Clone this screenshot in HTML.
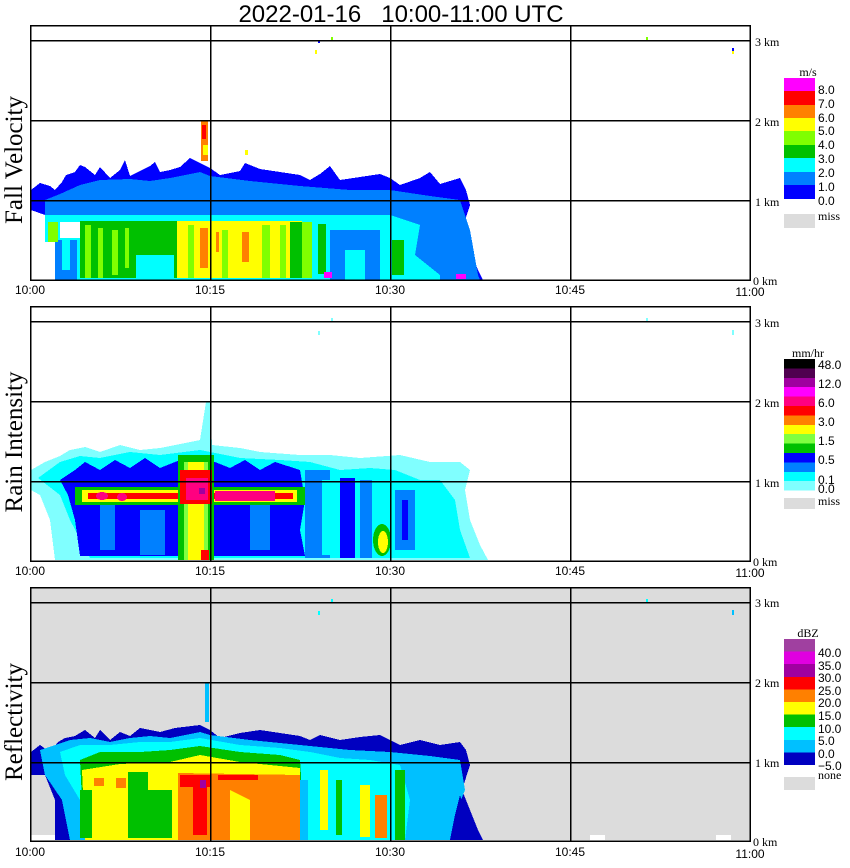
<!DOCTYPE html>
<html><head><meta charset="utf-8"><style>
body{margin:0;background:#fff;}
svg{display:block;}
.t{font-family:"Liberation Sans",sans-serif;font-size:12px;}
.s{font-family:"Liberation Serif",serif;font-size:12px;}
.yl{font-family:"Liberation Serif",serif;font-size:25px;}
</style></head><body>
<svg width="850" height="868" viewBox="0 0 850 868" xmlns="http://www.w3.org/2000/svg" shape-rendering="crispEdges">
<text x="401" y="22" text-anchor="middle" font-family="Liberation Sans,sans-serif" font-size="24" style="white-space:pre" xml:space="preserve">2022-01-16   10:00-11:00 UTC</text>

<!-- ===== Panel 1: Fall velocity ===== -->
<g>
<polygon fill="#0000ff" points="31,190 40,183 50,186 55,190 62,182 66,175 75,172 80,165 85,167 95,175 100,167 110,178 120,170 125,160 130,176 140,171 150,166 155,162 160,172 170,170 180,167 190,158 200,163 210,168 220,175 240,171 245,163 260,169 280,172 300,175 310,180 320,174 330,166 340,180 360,177 380,174 390,178 400,185 420,178 430,172 440,184 460,178 466,190 470,205 462,230 470,250 478,270 483,280 55,280 55,240 45,215 31,210"/>
<polygon fill="#0080ff" points="45,200 60,194 80,185 100,180 130,179 150,181 170,178 200,172 210,176 250,181 300,186 350,190 390,190 430,196 460,200 470,230 478,275 480,280 55,280 55,235 45,215"/>
<rect x="45" y="215" width="345" height="65" fill="#00ffff"/>
<polygon fill="#00ffff" points="390,215 420,225 415,255 440,275 440,280 390,280"/>
<rect x="330" y="230" width="50" height="50" fill="#0080ff"/>
<rect x="345" y="250" width="20" height="30" fill="#00ffff"/>
<rect x="80" y="221" width="97" height="57" fill="#00c000"/>
<rect x="85" y="225" width="6" height="53" fill="#80ff00"/>
<rect x="98" y="228" width="5" height="50" fill="#80ff00"/>
<rect x="112" y="230" width="6" height="45" fill="#80ff00"/>
<rect x="125" y="228" width="4" height="40" fill="#80ff00"/>
<rect x="136" y="255" width="38" height="23" fill="#00ffff"/>
<rect x="177" y="221" width="125" height="57" fill="#ffff00"/>
<rect x="188" y="225" width="6" height="53" fill="#80ff00"/>
<rect x="222" y="230" width="6" height="48" fill="#80ff00"/>
<rect x="262" y="225" width="8" height="53" fill="#80ff00"/>
<rect x="280" y="225" width="6" height="53" fill="#80ff00"/>
<rect x="290" y="222" width="12" height="56" fill="#00c000"/>
<rect x="200" y="228" width="8" height="40" fill="#ff8000"/>
<rect x="242" y="232" width="7" height="30" fill="#ff8000"/>
<rect x="216" y="232" width="3" height="20" fill="#ff8000"/>
<rect x="302" y="222" width="10" height="56" fill="#80ff00"/>
<rect x="318" y="224" width="8" height="50" fill="#00c000"/>
<rect x="55" y="240" width="22" height="40" fill="#0080ff"/>
<rect x="62" y="240" width="8" height="30" fill="#00ffff"/>
<rect x="48" y="222" width="10" height="20" fill="#80ff00"/>
<rect x="60" y="222" width="20" height="16" fill="#ffffff"/>
<rect x="45" y="242" width="10" height="38" fill="#ffffff"/>
<rect x="392" y="240" width="12" height="35" fill="#00c000"/>
<rect x="201" y="121" width="7" height="40" fill="#ff8000"/>
<rect x="202" y="125" width="4" height="14" fill="#ff0000"/>
<rect x="203" y="145" width="5" height="10" fill="#ffff00"/>
<rect x="324" y="272" width="8" height="6" fill="#ff00ff"/>
<rect x="456" y="274" width="10" height="5" fill="#ff00ff"/>
<rect x="245" y="150" width="3" height="5" fill="#ffff00"/>
<rect x="315" y="50" width="2" height="4" fill="#ffff00"/>
<rect x="318" y="40" width="2" height="3" fill="#0000ff"/>
<rect x="331" y="37" width="2" height="4" fill="#80ff00"/>
<rect x="646" y="37" width="2" height="4" fill="#80ff00"/>
<rect x="732" y="48" width="2" height="3" fill="#0000ff"/>
<rect x="732" y="51" width="2" height="3" fill="#ffff00"/>
<g stroke="#000" stroke-width="1.5" fill="none">
<rect x="30.5" y="25.5" width="719.5" height="254.5"/>
<line x1="30" y1="40.5" x2="750" y2="40.5"/><line x1="30" y1="120.5" x2="750" y2="120.5"/><line x1="30" y1="200.5" x2="750" y2="200.5"/>
<line x1="210.5" y1="25" x2="210.5" y2="280"/><line x1="390.5" y1="25" x2="390.5" y2="280"/><line x1="570.5" y1="25" x2="570.5" y2="280"/>
</g>
<text class="s" x="755" y="46">3 km</text><text class="s" x="755" y="126">2 km</text><text class="s" x="755" y="206">1 km</text><text class="s" x="753" y="285">0 km</text>
<text class="t" x="30" y="294" text-anchor="middle">10:00</text><text class="t" x="210" y="294" text-anchor="middle">10:15</text><text class="t" x="390" y="294" text-anchor="middle">10:30</text><text class="t" x="570" y="294" text-anchor="middle">10:45</text><text class="t" x="750" y="296" text-anchor="middle">11:00</text>
<text class="yl" transform="translate(22,160) rotate(-90)" text-anchor="middle">Fall Velocity</text>
<text class="s" x="808" y="76" text-anchor="middle" font-size="11">m/s</text>
<rect x="784" y="78" width="31" height="14" fill="#ff00ff"/><rect x="784" y="91" width="31" height="14" fill="#ff0000"/><rect x="784" y="105" width="31" height="14" fill="#ff8000"/><rect x="784" y="118" width="31" height="14" fill="#ffff00"/><rect x="784" y="131" width="31" height="14" fill="#80ff00"/><rect x="784" y="145" width="31" height="14" fill="#00c000"/><rect x="784" y="158" width="31" height="14" fill="#00ffff"/><rect x="784" y="172" width="31" height="14" fill="#0080ff"/><rect x="784" y="185" width="31" height="14" fill="#0000ff"/>
<rect x="784" y="214" width="31" height="14" fill="#dcdcdc"/>
<g class="t"><text x="818" y="94">8.0</text><text x="818" y="108">7.0</text><text x="818" y="122">6.0</text><text x="818" y="135">5.0</text><text x="818" y="149">4.0</text><text x="818" y="163">3.0</text><text x="818" y="177">2.0</text><text x="818" y="191">1.0</text><text x="818" y="205">0.0</text></g>
<text class="s" x="818" y="220">miss</text>
</g>

<!-- ===== Panel 2: Rain intensity ===== -->
<g>
<polygon fill="#80ffff" points="31,470 45,462 60,456 70,450 85,447 100,452 120,445 140,450 160,448 180,444 200,440 206,402 210,402 212,445 240,448 260,452 300,455 330,455 360,458 400,455 430,462 460,462 470,470 465,490 470,520 480,545 488,560 55,560 50,520 40,495 31,490"/>
<polygon fill="#00ffff" points="38,478 60,462 80,456 100,458 130,452 160,455 200,450 210,452 240,458 280,460 310,462 340,470 370,468 395,470 420,480 440,480 455,500 460,530 470,558 90,558 70,520 60,495"/>
<polygon fill="#0000ff" points="60,480 75,470 85,462 100,470 115,460 130,468 145,458 160,468 175,462 185,458 215,462 230,468 245,460 260,470 275,462 300,470 305,500 300,530 305,556 80,556 75,520 68,495"/>
<rect x="100" y="505" width="15" height="45" fill="#0080ff"/>
<rect x="140" y="510" width="25" height="45" fill="#0080ff"/>
<rect x="250" y="505" width="20" height="45" fill="#0080ff"/>
<rect x="305" y="470" width="25" height="88" fill="#0080ff"/>
<rect x="322" y="480" width="8" height="75" fill="#00ffff"/>
<rect x="340" y="478" width="15" height="80" fill="#0000ff"/>
<rect x="360" y="480" width="12" height="78" fill="#0080ff"/>
<rect x="395" y="490" width="20" height="60" fill="#0080ff"/>
<rect x="402" y="500" width="6" height="40" fill="#0000ff"/>
<ellipse cx="382" cy="540" rx="9" ry="16" fill="#00c000"/>
<ellipse cx="383" cy="542" rx="5" ry="11" fill="#ffff00"/>
<rect x="75" y="487" width="230" height="18" fill="#00c000"/>
<rect x="82" y="490" width="215" height="12" fill="#ffff00"/>
<rect x="88" y="493" width="205" height="6" fill="#ff0000"/>
<ellipse cx="102" cy="496" rx="6" ry="4" fill="#ff0080"/>
<ellipse cx="122" cy="497" rx="5" ry="4" fill="#ff0080"/>
<rect x="215" y="491" width="60" height="10" fill="#ff0080"/>
<rect x="178" y="455" width="36" height="105" fill="#00c000"/>
<rect x="184" y="462" width="24" height="98" fill="#80ff40"/>
<rect x="188" y="462" width="16" height="98" fill="#ffff00"/>
<rect x="180" y="470" width="32" height="34" fill="#ff0000"/>
<rect x="186" y="478" width="22" height="22" fill="#ff0080"/>
<rect x="199" y="488" width="6" height="6" fill="#a000a0"/>
<rect x="201" y="550" width="8" height="10" fill="#ff0000"/>
<rect x="318" y="331" width="2" height="4" fill="#80ffff"/>
<rect x="331" y="318" width="2" height="4" fill="#80ffff"/>
<rect x="646" y="318" width="2" height="4" fill="#80ffff"/>
<rect x="732" y="330" width="2" height="5" fill="#80ffff"/>
<g stroke="#000" stroke-width="1.5" fill="none">
<rect x="30.5" y="306.5" width="719.5" height="254.5"/>
<line x1="30" y1="321.5" x2="750" y2="321.5"/><line x1="30" y1="401.5" x2="750" y2="401.5"/><line x1="30" y1="481.5" x2="750" y2="481.5"/>
<line x1="210.5" y1="306" x2="210.5" y2="561"/><line x1="390.5" y1="306" x2="390.5" y2="561"/><line x1="570.5" y1="306" x2="570.5" y2="561"/>
</g>
<text class="s" x="755" y="327">3 km</text><text class="s" x="755" y="407">2 km</text><text class="s" x="755" y="487">1 km</text><text class="s" x="753" y="566">0 km</text>
<text class="t" x="30" y="575" text-anchor="middle">10:00</text><text class="t" x="210" y="575" text-anchor="middle">10:15</text><text class="t" x="390" y="575" text-anchor="middle">10:30</text><text class="t" x="570" y="575" text-anchor="middle">10:45</text><text class="t" x="750" y="577" text-anchor="middle">11:00</text>
<text class="yl" transform="translate(22,442) rotate(-90)" text-anchor="middle">Rain Intensity</text>
<text class="s" x="808" y="357" text-anchor="middle" font-size="11">mm/hr</text>
<rect x="784" y="359.0" width="31" height="9.7" fill="#000000"/><rect x="784" y="368.4" width="31" height="9.7" fill="#500050"/><rect x="784" y="377.8" width="31" height="9.7" fill="#a000a0"/><rect x="784" y="387.2" width="31" height="9.7" fill="#ff00ff"/><rect x="784" y="396.6" width="31" height="9.7" fill="#ff0080"/><rect x="784" y="406.0" width="31" height="9.7" fill="#ff0000"/><rect x="784" y="415.4" width="31" height="9.7" fill="#ff8000"/><rect x="784" y="424.8" width="31" height="9.7" fill="#ffff00"/><rect x="784" y="434.2" width="31" height="9.7" fill="#80ff40"/><rect x="784" y="443.6" width="31" height="9.7" fill="#00c000"/><rect x="784" y="453.0" width="31" height="9.7" fill="#0000ff"/><rect x="784" y="462.4" width="31" height="9.7" fill="#0080ff"/><rect x="784" y="471.8" width="31" height="9.7" fill="#00ffff"/><rect x="784" y="481.2" width="31" height="9.4" fill="#80ffff"/>
<rect x="784" y="498" width="31" height="11" fill="#dcdcdc"/>
<g class="t"><text x="818" y="369">48.0</text><text x="818" y="388">12.0</text><text x="818" y="407">6.0</text><text x="818" y="426">3.0</text><text x="818" y="445">1.5</text><text x="818" y="464">0.5</text><text x="818" y="484">0.1</text><text x="818" y="493">0.0</text></g>
<text class="s" x="818" y="505">miss</text>
</g>

<!-- ===== Panel 3: Reflectivity ===== -->
<g>
<rect x="31" y="588" width="719" height="252" fill="#dcdcdc"/>
<polygon fill="#0000c0" points="31,752 40,745 50,752 58,742 65,738 75,736 85,730 95,738 100,730 110,740 120,732 130,736 140,728 150,730 160,732 175,728 200,725 210,730 220,738 240,733 260,730 280,733 300,736 310,740 320,735 340,740 360,737 380,735 390,740 400,745 420,740 440,745 460,742 466,750 470,765 462,790 470,810 478,830 483,840 55,840 55,800 45,775 31,775"/>
<polygon fill="#00c0ff" points="40,750 55,745 70,740 90,738 110,742 130,738 150,736 170,738 200,732 210,735 250,740 300,745 350,750 390,752 430,756 460,760 465,790 455,815 452,840 70,840 62,800 45,775"/>
<polygon fill="#00ffff" points="60,752 80,745 110,745 140,742 170,742 200,738 240,745 280,748 310,752 340,758 370,760 400,765 410,800 405,840 85,840 80,800 65,775"/>
<polygon fill="#00c000" points="80,760 100,752 140,752 170,750 200,746 240,752 280,755 300,760 305,840 85,840 82,800"/>
<polygon fill="#ffff00" points="82,770 120,764 170,762 200,755 240,762 300,768 300,840 85,840"/>
<rect x="128" y="772" width="20" height="66" fill="#00c000"/>
<rect x="142" y="790" width="30" height="48" fill="#00c000"/>
<rect x="80" y="790" width="12" height="48" fill="#00c000"/>
<rect x="94" y="778" width="10" height="8" fill="#ff8000"/>
<rect x="116" y="778" width="10" height="10" fill="#ff8000"/>
<polygon fill="#ff8000" points="178,773 300,775 300,840 250,840 250,800 230,790 230,840 178,840"/>
<rect x="180" y="775" width="30" height="12" fill="#ff0000"/>
<rect x="193" y="787" width="14" height="48" fill="#ff0000"/>
<rect x="200" y="780" width="6" height="8" fill="#a000a0"/>
<rect x="218" y="775" width="40" height="5" fill="#ff0000"/>
<rect x="300" y="780" width="8" height="60" fill="#00c0ff"/>
<rect x="320" y="770" width="8" height="60" fill="#ffff00"/>
<rect x="336" y="780" width="6" height="55" fill="#00c000"/>
<rect x="360" y="785" width="10" height="52" fill="#ffff00"/>
<rect x="375" y="795" width="12" height="43" fill="#ff8000"/>
<rect x="395" y="770" width="10" height="70" fill="#00c000"/>
<polygon fill="#0000c0" points="455,815 460,795 465,810 478,830 480,840 450,840"/>
<rect x="31" y="835" width="24" height="5" fill="#ffffff"/>
<rect x="205" y="682" width="4" height="40" fill="#00c0ff"/>
<rect x="318" y="611" width="2" height="4" fill="#00ffff"/>
<rect x="331" y="599" width="2" height="4" fill="#00ffff"/>
<rect x="646" y="599" width="2" height="4" fill="#00ffff"/>
<rect x="732" y="610" width="2" height="5" fill="#00c0ff"/>
<rect x="590" y="835" width="15" height="5" fill="#ffffff"/>
<rect x="716" y="835" width="15" height="5" fill="#ffffff"/>
<g stroke="#000" stroke-width="1.5" fill="none">
<rect x="30.5" y="587.5" width="719.5" height="253.5"/>
<line x1="30" y1="602.5" x2="750" y2="602.5"/><line x1="30" y1="682.5" x2="750" y2="682.5"/><line x1="30" y1="762.5" x2="750" y2="762.5"/>
<line x1="210.5" y1="587" x2="210.5" y2="841"/><line x1="390.5" y1="587" x2="390.5" y2="841"/><line x1="570.5" y1="587" x2="570.5" y2="841"/>
</g>
<text class="s" x="755" y="607">3 km</text><text class="s" x="755" y="687">2 km</text><text class="s" x="755" y="767">1 km</text><text class="s" x="753" y="846">0 km</text>
<text class="t" x="30" y="856" text-anchor="middle">10:00</text><text class="t" x="210" y="856" text-anchor="middle">10:15</text><text class="t" x="390" y="856" text-anchor="middle">10:30</text><text class="t" x="570" y="856" text-anchor="middle">10:45</text><text class="t" x="750" y="858" text-anchor="middle">11:00</text>
<text class="yl" transform="translate(22,722) rotate(-90)" text-anchor="middle">Reflectivity</text>
<text class="s" x="808" y="637" text-anchor="middle" font-size="12">dBZ</text>
<rect x="784" y="639.0" width="31" height="12.8" fill="#a040a0"/><rect x="784" y="651.6" width="31" height="12.8" fill="#e000e0"/><rect x="784" y="664.2" width="31" height="12.8" fill="#a000a0"/><rect x="784" y="676.8" width="31" height="12.8" fill="#ff0000"/><rect x="784" y="689.4" width="31" height="12.8" fill="#ff8000"/><rect x="784" y="702.0" width="31" height="12.8" fill="#ffff00"/><rect x="784" y="714.6" width="31" height="12.8" fill="#00c000"/><rect x="784" y="727.2" width="31" height="12.8" fill="#00ffff"/><rect x="784" y="739.8" width="31" height="12.8" fill="#00c0ff"/><rect x="784" y="752.4" width="31" height="12.6" fill="#0000c0"/>
<rect x="784" y="777" width="31" height="13" fill="#dcdcdc"/>
<g class="t"><text x="818" y="657">40.0</text><text x="818" y="670">35.0</text><text x="818" y="682">30.0</text><text x="818" y="695">25.0</text><text x="818" y="707">20.0</text><text x="818" y="720">15.0</text><text x="818" y="733">10.0</text><text x="818" y="745">5.0</text><text x="818" y="758">0.0</text><text x="818" y="770">−5.0</text></g>
<text class="s" x="818" y="779">none</text>
</g>
</svg>
</body></html>
